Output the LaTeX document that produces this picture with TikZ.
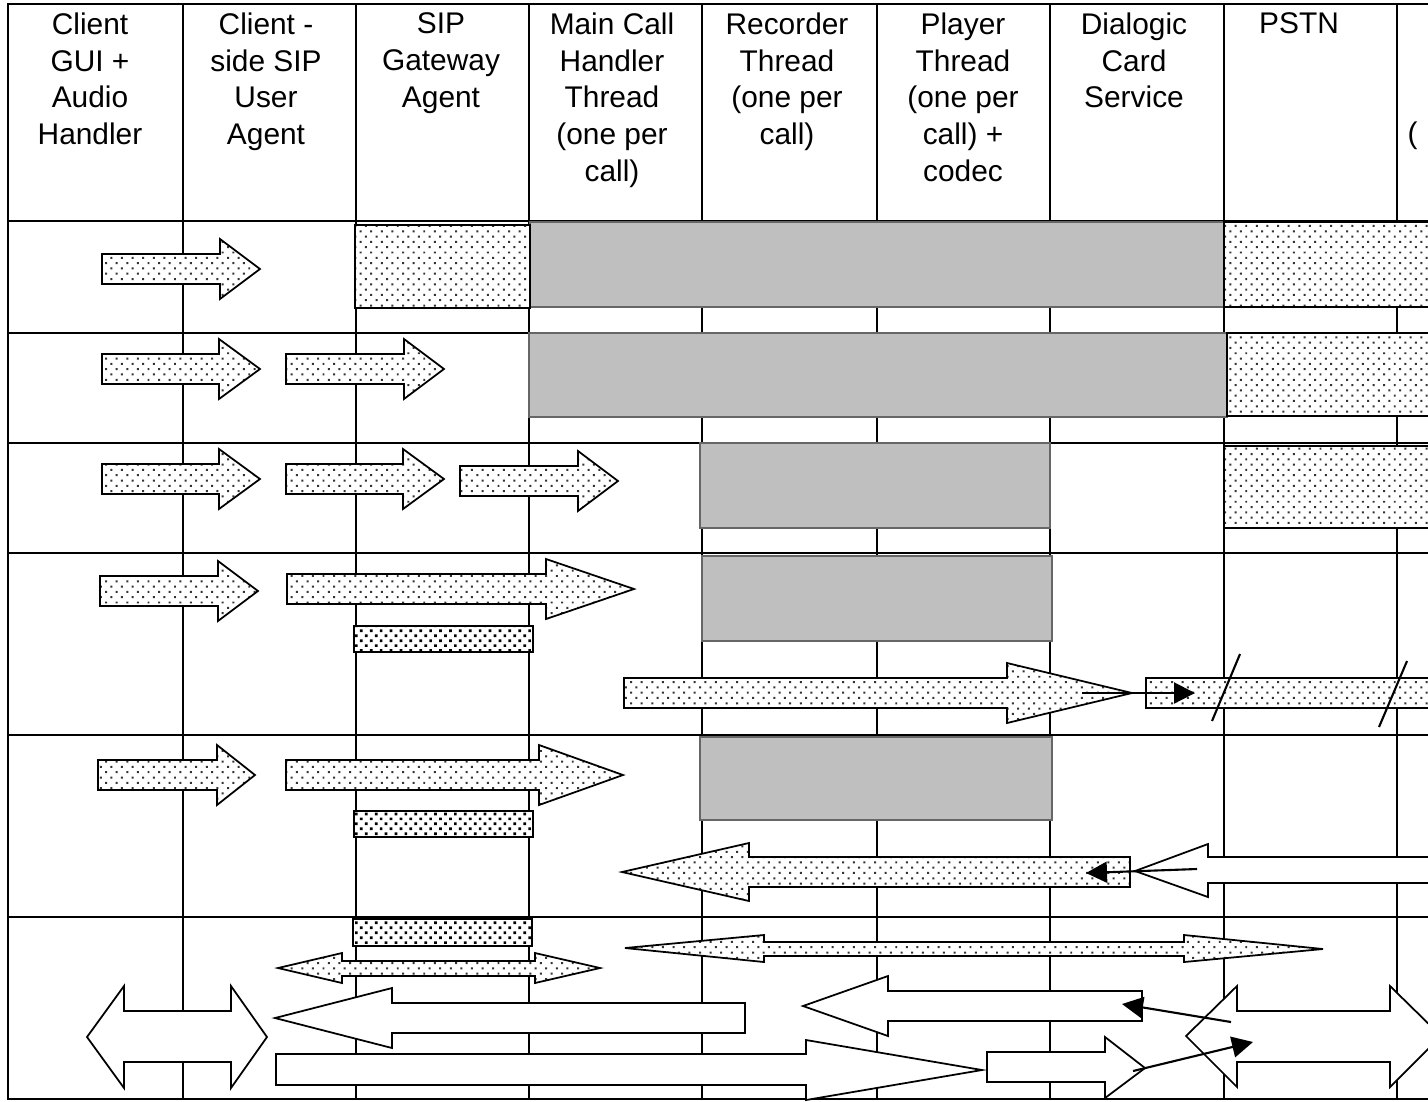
\documentclass[tikz,border=0pt]{standalone}
\usepackage{fontspec}
\setmainfont{Liberation Sans}
\usetikzlibrary{arrows.meta,patterns.meta}

\begin{document}
\begin{tikzpicture}[
    x=0.1mm,y=-0.1mm,
    every node/.style={font=\fontsize{8.5pt}{10.45pt}\selectfont,align=center,inner sep=0pt},
    hdr/.style={anchor=north},
    grade/.style={line width=0.6pt},
    busy/.style={draw=black!60,fill=black!25,line width=0.5pt},
    pontos/.style={preaction={fill=white},
      pattern={Dots[distance=0.75mm,angle=45,radius=0.14mm]},pattern color=black!80},
    dotbox/.style={pontos,draw,line width=0.6pt},
    densebox/.style={preaction={fill=white},
      pattern={Dots[distance=0.7mm,angle=45,radius=0.19mm]},pattern color=black,
      draw,line width=0.6pt},
    dotarrow/.style={pontos,draw,line width=0.5pt},
    plainarrow/.style={draw,fill=white,line width=0.5pt},
    pointer/.style={-{Triangle[length=2.1mm,width=2.1mm]},line width=0.6pt}
  ]
    \useasboundingbox (0,0) rectangle (1428,1101);
    \clip (0,0) rectangle (1428,1101);

    % table
    \draw[grade] (8,4) rectangle (1440,1099);
    \foreach \y in {221,333,443,553,735,917}
      \draw[grade] (8,\y) -- (1440,\y);
    \foreach \x in {183,356,529,702,877,1050,1224,1397}
      \draw[grade] (\x,4) -- (\x,1099);

    % column heads
    \node[hdr] (gui) at (90,12) {Client\\GUI +\\Audio\\Handler};
    \node[hdr] (sipua) at (266,12) {Client -\\side SIP\\User\\Agent};
    \node[hdr] (gateway) at (441,12) {SIP\\Gateway\\Agent};
    \node[hdr] (mainthread) at (612,12) {Main Call\\Handler\\Thread\\(one per\\call)};
    \node[hdr] (recorder) at (787,12) {Recorder\\Thread\\(one per\\call)};
    \node[hdr] (player) at (963,12) {Player\\Thread\\(one per\\call) +\\codec};
    \node[hdr] (dialogic) at (1134,12) {Dialogic\\Card\\Service};
    \node[hdr] (pstn) at (1299,12) {PSTN};
    \node[anchor=base west] (extra) at (1407,143) {(};

    % busy blocks
    \draw[busy] (530,222) rectangle (1224,307);
    \draw[busy] (529,333) rectangle (1227,417);
    \draw[busy] (700,443) rectangle (1050,528);
    \draw[busy] (702,556) rectangle (1052,641);
    \draw[busy] (700,737) rectangle (1052,820);

    \draw[dotbox] (355,225) rectangle (530,308);
    \draw[dotbox] (1224,222) rectangle (1440,307);
    \draw[dotbox] (1227,333) rectangle (1440,416);
    \draw[dotbox] (1224,446) rectangle (1440,528);

    \draw[densebox] (354,626) rectangle (533,652);
    \draw[densebox] (354,811) rectangle (533,837);
    \draw[densebox] (353,919) rectangle (532,946);

    % dotted messages to the right
    \foreach \xa/\xb/\xc/\yc in {102/220/260/269, 102/219/260/369, 286/404/444/369,
        102/219/260/479, 286/403/444/479, 460/578/618/481, 100/218/258/591,
        287/546/634/589, 98/217/255/775, 286/539/623/775, 624/1007/1132/693}
      \draw[dotarrow] (\xa,\yc-15) -- (\xb,\yc-15) -- (\xb,\yc-30) -- (\xc,\yc)
        -- (\xb,\yc+30) -- (\xb,\yc+15) -- (\xa,\yc+15) -- cycle;

    \draw[dotarrow] (1146,678) rectangle (1440,708);
    \draw[line width=0.6pt] (1212,721) -- (1240,654);
    \draw[line width=0.6pt] (1379,727) -- (1407,661);

    \draw[dotarrow] (1130,857) -- (749,857) -- (749,843) -- (622,872) -- (749,901)
      -- (749,887) -- (1130,887) -- cycle;
    \draw[plainarrow] (1440,857) -- (1208,857) -- (1208,844) -- (1135,871) -- (1208,897)
      -- (1208,883) -- (1440,883) -- cycle;

    % last row
    \draw[dotarrow] (342,961) -- (535,961) -- (535,953) -- (600,968) -- (535,983)
      -- (535,976) -- (342,976) -- (342,983) -- (278,968) -- (342,953) -- cycle;
    \draw[dotarrow] (764,942) -- (1184,942) -- (1184,935) -- (1323,949) -- (1184,962)
      -- (1184,956) -- (764,956) -- (764,962) -- (625,948) -- (764,935) -- cycle;

    \draw[plainarrow] (124,1011) -- (231,1011) -- (231,986) -- (267,1037) -- (231,1088)
      -- (231,1062) -- (124,1062) -- (124,1088) -- (87,1037) -- (124,986) -- cycle;
    \draw[plainarrow] (745,1003) -- (392,1003) -- (392,988) -- (275,1018) -- (392,1048)
      -- (392,1033) -- (745,1033) -- cycle;
    \draw[plainarrow] (276,1054) -- (806,1054) -- (806,1040) -- (982,1070) -- (806,1100)
      -- (806,1085) -- (276,1085) -- cycle;
    \draw[plainarrow] (1142,991) -- (888,991) -- (888,976) -- (803,1006) -- (888,1036)
      -- (888,1021) -- (1142,1021) -- cycle;
    \draw[plainarrow] (987,1052) -- (1105,1052) -- (1105,1037) -- (1145,1068) -- (1105,1098)
      -- (1105,1082) -- (987,1082) -- cycle;
    \draw[plainarrow] (1237,1011) -- (1390,1011) -- (1390,986) -- (1441,1036) -- (1390,1087)
      -- (1390,1062) -- (1237,1062) -- (1237,1087) -- (1186,1036) -- (1237,986) -- cycle;

    % signals
    \coordinate (s1a) at (1082,693);
    \coordinate (s1b) at (1195,693);
    \coordinate (s2a) at (1197,869);
    \coordinate (s2b) at (1086,873);
    \coordinate (s3a) at (1231,1022);
    \coordinate (s3b) at (1122,1004);
    \coordinate (s4a) at (1133,1071);
    \coordinate (s4b) at (1253,1042);
    \draw[pointer] (s1a) -- (s1b);
    \draw[pointer] (s2a) -- (s2b);
    \draw[pointer] (s3a) -- (s3b);
    \draw[pointer] (s4a) -- (s4b);
  \end{tikzpicture}
\end{document}
